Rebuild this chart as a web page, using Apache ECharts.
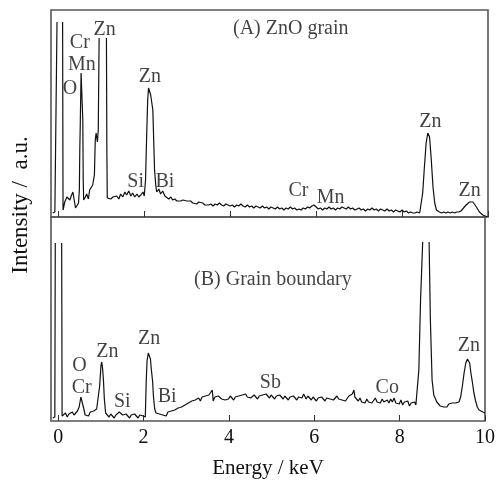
<!DOCTYPE html>
<html>
<head>
<meta charset="utf-8">
<script src="https://cdn.jsdelivr.net/npm/echarts@6/dist/echarts.min.js"></script>
<style>html,body{margin:0;padding:0;background:#fff;}#c{width:498px;height:481px;}</style>
</head>
<body>
<div id="c"></div>
<script>
// Energy (keV) tick labels
const xTicks = [0, 2, 4, 6, 8, 10];

// Panel (A) ZnO grain: [energy keV, intensity a.u.]; null = off-scale (clipped) peak top
const spectrumA = [
[-0.13,4],[-0.08,5],[-0.05,7],[-0.03,195],[0.03,null],[0.10,195],[0.11,7],
[0.15,15],[0.20,20],[0.23,22],[0.27,17],[0.30,21],[0.34,25],[0.37,17],[0.40,9],[0.43,10],[0.47,14],
[0.49,27],[0.50,67],[0.51,90],[0.53,144],[0.55,144],[0.57,97],[0.58,37],[0.59,17],
[0.63,20],[0.66,23],[0.70,18],[0.73,27],[0.77,29],[0.80,32],[0.84,42],[0.86,77],[0.88,84],[0.91,75],[0.93,87],
[0.95,179],[1.03,null],[1.12,179],[1.13,67],[1.14,19],
[1.17,17],[1.22,18],[1.27,20],[1.31,18],[1.36,21],[1.41,18],[1.45,23],[1.50,20],[1.55,25],[1.59,22],[1.64,26],
[1.69,21],[1.73,24],[1.78,20],[1.83,23],[1.87,20],[1.92,22],[1.97,25],[2.00,21],
[2.03,37],[2.06,87],[2.08,117],[2.10,129],[2.13,130],[2.15,122],[2.17,120],[2.20,107],[2.22,77],[2.24,47],[2.27,31],[2.29,25],
[2.34,28],[2.38,23],[2.43,26],[2.48,21],[2.52,22],[2.57,18],[2.62,20],[2.66,17],[2.71,18],[2.76,16],[2.80,18],
[2.85,16],[2.90,17],[2.94,15],[2.99,16],[3.03,14],[3.08,16],[3.13,14],[3.17,15],[3.22,13],[3.27,15],[3.31,13],
[3.36,14],[3.41,12],[3.45,14],
[3.50,12],[3.55,13],[3.60,11],[3.65,13],[3.70,12],[3.75,14],[3.80,12],[3.85,11],[3.90,13],[3.95,12],
[4.00,11],[4.05,12],[4.10,10],[4.15,12],[4.20,11],[4.25,13],[4.30,11],[4.35,10],[4.40,12],[4.45,10],
[4.50,11],[4.55,9],[4.60,11],[4.65,10],[4.70,9],[4.75,11],[4.80,9],[4.85,10],[4.90,8],[4.95,10],
[5.00,9],[5.05,8],[5.10,10],[5.15,8],[5.20,9],[5.25,7],[5.30,9],[5.35,8],[5.40,10],[5.45,8],
[5.50,9],[5.55,7],[5.60,8],[5.65,7],[5.70,9],[5.75,8],[5.80,10],[5.85,9],[5.90,11],[5.95,12],
[6.00,10],[6.05,8],[6.10,9],[6.15,7],[6.20,9],[6.25,8],[6.30,10],[6.35,8],[6.40,9],[6.45,7],
[6.50,9],[6.55,8],[6.60,10],[6.65,9],[6.70,8],[6.75,10],[6.80,8],[6.85,9],[6.90,7],[6.95,8],
[7.00,9],[7.05,7],[7.10,8],[7.15,6],[7.20,8],[7.25,7],[7.30,9],[7.35,7],[7.40,8],[7.45,6],
[7.50,8],[7.55,7],[7.60,6],[7.65,8],[7.70,6],[7.75,7],[7.80,5],[7.85,7],[7.90,6],[7.95,5],
[8.00,7],[8.05,5],[8.10,6],[8.15,4],[8.20,5],[8.25,4],[8.30,4],[8.35,5],
[8.41,4],[8.48,24],[8.52,50],[8.56,74],[8.60,84],[8.64,80],[8.68,57],[8.72,30],[8.76,14],[8.80,7],
[8.87,5],[8.92,4],[8.97,5],[9.02,4],[9.07,5],[9.12,4],[9.17,5],[9.22,4],[9.27,5],[9.32,5],[9.37,6],
[9.41,7],[9.49,12],[9.57,15],[9.65,15],[9.73,10],[9.80,5],[9.88,2],[9.99,0]
];

// Panel (B) Grain boundary: [energy keV, intensity a.u.]
const spectrumB = [
[-0.13,3],[-0.08,4],[-0.07,178],[0.01,null],[0.08,178],[0.09,5],
[0.13,6],[0.17,8],[0.21,4],[0.25,7],[0.29,5],[0.33,9],[0.37,6],[0.41,8],[0.45,10],
[0.49,14],[0.53,24],[0.55,26],[0.57,22],[0.60,12],[0.63,6],
[0.67,8],[0.71,5],[0.75,9],[0.79,7],[0.83,10],[0.87,8],[0.90,12],
[0.94,10],[0.97,35],[1.00,55],[1.02,59],[1.04,52],[1.06,40],[1.08,22],[1.11,8],
[1.15,6],[1.19,4],[1.23,7],[1.27,5],[1.31,3],[1.35,6],[1.39,4],[1.43,9],[1.47,10],[1.51,6],
[1.55,4],[1.59,7],[1.63,5],[1.67,3],[1.71,6],[1.75,4],[1.79,7],[1.83,5],[1.87,3],[1.91,6],[1.95,4],[1.99,5],
[2.04,4],[2.06,38],[2.08,60],[2.11,68],[2.13,66],[2.16,62],[2.18,52],[2.21,40],[2.23,25],[2.26,12],[2.29,8],
[2.33,10],[2.37,7],[2.41,9],[2.45,6],[2.49,8],[2.53,5],[2.57,9],[2.61,7],[2.65,10],[2.69,8],
[2.73,11],[2.77,9],[2.81,13],[2.85,11],[2.89,14],[2.93,12],[2.97,16],[3.01,14],[3.05,18],[3.09,16],
[3.13,20],[3.17,18],[3.21,21],[3.25,19],[3.29,23],[3.33,20],[3.37,24],[3.41,22],[3.45,25],[3.49,23],
[3.53,26],[3.57,24],[3.61,31],[3.63,20],[3.67,24],[3.71,22],[3.75,25],[3.79,23],[3.83,22],[3.87,24],
[3.91,21],[3.95,23],[3.99,22],[4.03,25],[4.07,23],[4.11,21],[4.15,24],[4.19,22],[4.23,25],[4.27,23],
[4.31,26],[4.35,24],[4.39,27],[4.43,24],[4.47,26],[4.51,23],[4.55,25],[4.59,26],[4.63,24],[4.67,22],
[4.71,25],[4.75,23],[4.79,26],[4.83,24],[4.87,27],[4.91,25],[4.95,23],[4.99,26],[5.03,24],[5.07,22],
[5.11,25],[5.15,23],[5.19,26],[5.23,24],[5.27,22],[5.31,25],[5.35,23],[5.39,21],[5.43,24],[5.47,22],
[5.51,25],[5.55,23],[5.59,21],[5.63,24],[5.67,26],[5.71,23],[5.75,27],[5.79,29],[5.81,22],[5.85,25],
[5.89,23],[5.93,21],[5.97,24],[6.01,22],[6.05,20],[6.09,23],[6.13,21],[6.17,24],[6.21,22],[6.25,20],
[6.29,23],[6.33,25],[6.37,22],[6.41,24],[6.45,21],[6.49,23],[6.53,25],[6.57,22],[6.61,24],[6.65,21],
[6.69,23],[6.73,20],[6.77,22],[6.81,25],[6.85,23],[6.89,27],[6.93,31],[6.95,24],[6.99,22],[7.03,20],
[7.07,23],[7.11,19],[7.15,21],[7.19,18],[7.23,22],[7.27,19],[7.31,21],[7.35,18],[7.39,20],[7.43,23],
[7.47,19],[7.51,21],[7.55,18],[7.59,22],[7.63,19],[7.67,17],[7.71,21],[7.75,18],[7.79,22],[7.83,19],
[7.87,23],[7.91,18],[7.95,20],[7.99,17],[8.03,21],[8.07,16],[8.11,19],[8.15,17],[8.19,20],[8.23,15],
[8.27,18],[8.31,16],[8.35,19],[8.38,16],
[8.40,16],[8.45,51],[8.49,121],[8.54,179],[8.61,null],[8.69,179],[8.72,101],[8.76,41],[8.80,26],[8.87,19],
[8.91,17],[8.95,15],[8.99,16],[9.03,14],[9.07,16],[9.11,14],[9.15,17],[9.19,15],[9.23,18],[9.27,16],
[9.31,18],[9.35,17],[9.39,19],[9.43,24],[9.47,35],[9.51,48],[9.55,58],[9.59,62],[9.61,63],[9.64,58],
[9.67,48],[9.70,40],[9.74,28],[9.78,20],[9.82,14],[9.86,11],[9.90,10],[9.95,9],[10.0,8]
];

// Peak annotations: [text, energy keV, intensity]
const labelsA = [
['Zn',1.08,187],['Cr',0.50,174],['Mn',0.55,152],['O',0.27,128],['Zn',2.13,140],
['Si',1.80,35],['Bi',2.48,35],['Cr',5.59,26],['Mn',6.34,19],['Zn',8.66,95],['Zn',9.57,26],
['(A) ZnO grain',5.41,188]
];
const labelsB = [
['O',0.50,55],['Cr',0.55,33],['Zn',1.15,69],['Si',1.50,19],['Zn',2.13,82],['Bi',2.55,24],
['Sb',4.97,38],['Co',7.71,33],['Zn',9.62,75],['(B) Grain boundary',5.03,141]
];

const FONT = '"Liberation Serif", "Times New Roman", serif';
const TXT = '#111';

function xAxis(gi, showLabels) {
  return {
    type: 'value', gridIndex: gi, min: -0.17, max: 10,
    axisLine: { show: false }, splitLine: { show: false },
    axisTick: { show: true, inside: true, length: 6, customValues: xTicks, lineStyle: { color: '#333', width: 1 } },
    axisLabel: { show: showLabels, customValues: xTicks, fontFamily: FONT, fontSize: 20, color: TXT, margin: 7 },
    name: showLabels ? 'Energy / keV' : '', nameLocation: 'middle', nameGap: 37,
    nameTextStyle: { fontFamily: FONT, fontSize: 21, color: TXT }
  };
}
function yAxis(gi, max) {
  return { type: 'value', gridIndex: gi, min: 0, max: max,
    axisLine: { show: false }, axisTick: { show: false }, axisLabel: { show: false }, splitLine: { show: false } };
}
function labelSeries(arr, xi, yi) {
  return {
    type: 'scatter', xAxisIndex: xi, yAxisIndex: yi, symbolSize: 0, silent: true,
    data: arr.map(d => ({ name: d[0], value: [d[1], d[2]] })),
    label: { show: true, position: 'inside', formatter: p => p.name,
      fontFamily: FONT, fontSize: 20, color: TXT, align: 'center', verticalAlign: 'middle' }
  };
}
function lineSeries(arr, xi, yi) {
  return {
    type: 'line', xAxisIndex: xi, yAxisIndex: yi, data: arr, showSymbol: false, symbol: 'none',
    connectNulls: false, clip: true, silent: true,
    lineStyle: { color: '#111', width: 1.2 }
  };
}

const chart = echarts.init(document.getElementById('c'), null, { renderer: 'canvas' });
chart.setOption({
  animation: false,
  backgroundColor: '#fff',
  grid: [
    { left: 51, right: 10, top: 10, height: 207, show: true, borderColor: '#555', borderWidth: 1.6, backgroundColor: 'transparent' },
    { left: 51, right: 10, top: 217, height: 204, show: true, borderColor: '#555', borderWidth: 1.6, backgroundColor: 'transparent' }
  ],
  xAxis: [xAxis(0, false), xAxis(1, true)],
  yAxis: [yAxis(0, 207), yAxis(1, 204)],
  graphic: [{
    type: 'text', x: 21, y: 205, rotation: Math.PI / 2,
    style: { text: 'Intensity /  a.u.', font: '23px ' + FONT, fill: TXT, align: 'center', verticalAlign: 'middle' }
  }],
  series: [
    lineSeries(spectrumA, 0, 0),
    lineSeries(spectrumB, 1, 1),
    labelSeries(labelsA, 0, 0),
    labelSeries(labelsB, 1, 1)
  ]
});
</script>
</body>
</html>
